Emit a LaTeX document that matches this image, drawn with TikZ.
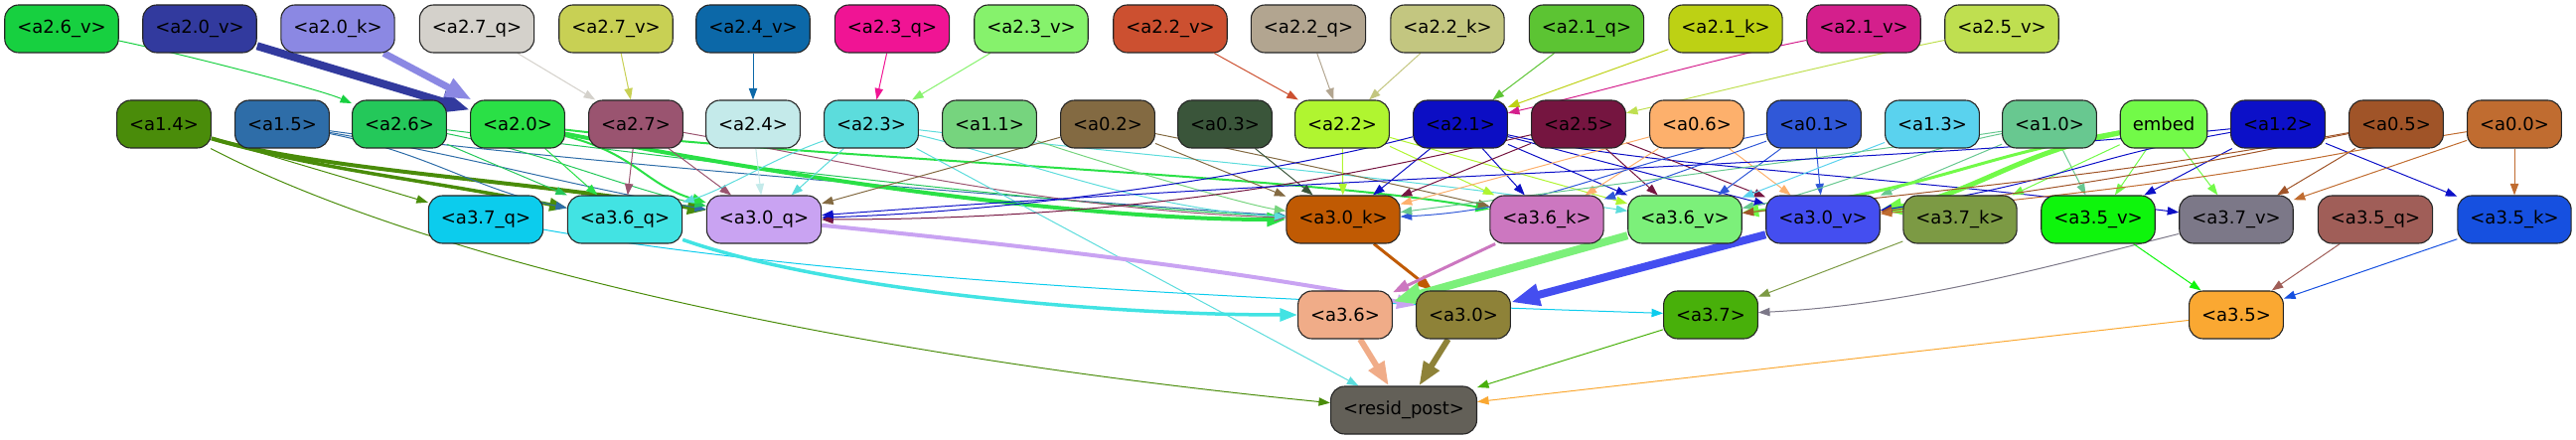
\documentclass[tikz,border=0pt]{standalone}
\usepackage{fontspec}
\setmainfont{DejaVu Sans}
\usetikzlibrary{arrows.meta,backgrounds}
\definecolor{c26v}{HTML}{17D040}\definecolor{c20v}{HTML}{323A9E}\definecolor{c20k}{HTML}{8B88E3}
\definecolor{c27q}{HTML}{D4D1CB}\definecolor{c27v}{HTML}{C8D054}\definecolor{c24v}{HTML}{0C68A8}
\definecolor{c23q}{HTML}{F01494}\definecolor{c23v}{HTML}{86F26C}\definecolor{c22v}{HTML}{CC5030}
\definecolor{c22q}{HTML}{B2A590}\definecolor{c22k}{HTML}{C3C680}\definecolor{c21q}{HTML}{5CC433}
\definecolor{c21k}{HTML}{BDD114}\definecolor{c21v}{HTML}{D41F8C}\definecolor{c25v}{HTML}{BFDF50}
\definecolor{c14}{HTML}{4A8C0A}\definecolor{c15}{HTML}{2E6DA8}\definecolor{c26}{HTML}{24C85A}
\definecolor{c20}{HTML}{2AE046}\definecolor{c27}{HTML}{9A5470}\definecolor{c24}{HTML}{C4EAEA}
\definecolor{c23}{HTML}{5CDCDC}\definecolor{c11}{HTML}{76D47E}\definecolor{c02}{HTML}{836A42}
\definecolor{c03}{HTML}{3A553A}\definecolor{c22}{HTML}{B0F530}\definecolor{c21}{HTML}{0C0EC4}
\definecolor{c25}{HTML}{751540}\definecolor{c06}{HTML}{FDB06C}\definecolor{c01}{HTML}{3058D8}
\definecolor{c13}{HTML}{5AD2EE}\definecolor{c10}{HTML}{68C890}\definecolor{cemb}{HTML}{72FA48}
\definecolor{c12}{HTML}{0C10C8}\definecolor{c05}{HTML}{A05428}\definecolor{c00}{HTML}{C06C30}
\definecolor{c37q}{HTML}{0CCCED}\definecolor{c36q}{HTML}{42E3E3}\definecolor{c30q}{HTML}{C9A3F2}
\definecolor{c30k}{HTML}{C05A03}\definecolor{c36k}{HTML}{CC77C0}\definecolor{c36v}{HTML}{7CF07A}
\definecolor{c30v}{HTML}{444EF0}\definecolor{c37k}{HTML}{7C9A44}\definecolor{c35v}{HTML}{0EF50C}
\definecolor{c37v}{HTML}{7C7888}\definecolor{c35q}{HTML}{A05E58}\definecolor{c35k}{HTML}{1650E0}
\definecolor{c36}{HTML}{F0AC88}\definecolor{c30}{HTML}{8E8238}\definecolor{c37}{HTML}{48B00A}
\definecolor{c35}{HTML}{FAA832}\definecolor{cres}{HTML}{636058}
\begin{document}
\begin{tikzpicture}[x=1pt,y=-1pt,
  box/.style={draw=black!85, line width=1.1pt, rounded corners=14pt, minimum height=48pt,
    inner xsep=12.5pt, inner ysep=0pt, font=\fontsize{18}{21}\selectfont, text=black},
  ed/.style={-{Triangle[length=9pt 2.5, width=6.5pt 1.8]}, line width=#1},
  ed/.default=1pt]
\useasboundingbox (0,0) rectangle (2593,443);
% row 1
\node[box,fill=c26v] (a26v) at (62,29) {<a2.6\_v>};
\node[box,fill=c20v] (a20v) at (201,29) {<a2.0\_v>};
\node[box,fill=c20k] (a20k) at (340,29) {<a2.0\_k>};
\node[box,fill=c27q] (a27q) at (480,29) {<a2.7\_q>};
\node[box,fill=c27v] (a27v) at (620,29) {<a2.7\_v>};
\node[box,fill=c24v] (a24v) at (758,29) {<a2.4\_v>};
\node[box,fill=c23q] (a23q) at (898,29) {<a2.3\_q>};
\node[box,fill=c23v] (a23v) at (1038,29) {<a2.3\_v>};
\node[box,fill=c22v] (a22v) at (1178,29) {<a2.2\_v>};
\node[box,fill=c22q] (a22q) at (1317,29) {<a2.2\_q>};
\node[box,fill=c22k] (a22k) at (1457,29) {<a2.2\_k>};
\node[box,fill=c21q] (a21q) at (1597,29) {<a2.1\_q>};
\node[box,fill=c21k] (a21k) at (1737,29) {<a2.1\_k>};
\node[box,fill=c21v] (a21v) at (1876,29) {<a2.1\_v>};
\node[box,fill=c25v] (a25v) at (2015,29) {<a2.5\_v>};
% row 2
\node[box,fill=c14] (a14) at (165,125) {<a1.4>};
\node[box,fill=c15] (a15) at (284,125) {<a1.5>};
\node[box,fill=c26] (a26) at (402,125) {<a2.6>};
\node[box,fill=c20] (a20) at (521,125) {<a2.0>};
\node[box,fill=c27] (a27) at (640,125) {<a2.7>};
\node[box,fill=c24] (a24) at (758,125) {<a2.4>};
\node[box,fill=c23] (a23) at (877,125) {<a2.3>};
\node[box,fill=c11] (a11) at (996,125) {<a1.1>};
\node[box,fill=c02] (a02) at (1115,125) {<a0.2>};
\node[box,fill=c03] (a03) at (1233,125) {<a0.3>};
\node[box,fill=c22] (a22) at (1351,125) {<a2.2>};
\node[box,fill=c21] (a21) at (1470,125) {<a2.1>};
\node[box,fill=c25] (a25) at (1589,125) {<a2.5>};
\node[box,fill=c06] (a06) at (1708,125) {<a0.6>};
\node[box,fill=c01] (a01) at (1826,125) {<a0.1>};
\node[box,fill=c13] (a13) at (1945,125) {<a1.3>};
\node[box,fill=c10] (a10) at (2063,125) {<a1.0>};
\node[box,fill=cemb] (emb) at (2178,125) {embed};
\node[box,fill=c12] (a12) at (2293,125) {<a1.2>};
\node[box,fill=c05] (a05) at (2412,125) {<a0.5>};
\node[box,fill=c00] (a00) at (2531,125) {<a0.0>};
% row 3
\node[box,fill=c37q] (a37q) at (489,221) {<a3.7\_q>};
\node[box,fill=c36q] (a36q) at (629,221) {<a3.6\_q>};
\node[box,fill=c30q] (a30q) at (769,221) {<a3.0\_q>};
\node[box,fill=c30k] (a30k) at (1352,221) {<a3.0\_k>};
\node[box,fill=c36k] (a36k) at (1557,221) {<a3.6\_k>};
\node[box,fill=c36v] (a36v) at (1696,221) {<a3.6\_v>};
\node[box,fill=c30v] (a30v) at (1835,221) {<a3.0\_v>};
\node[box,fill=c37k] (a37k) at (1973,221) {<a3.7\_k>};
\node[box,fill=c35v] (a35v) at (2112,221) {<a3.5\_v>};
\node[box,fill=c37v] (a37v) at (2251,221) {<a3.7\_v>};
\node[box,fill=c35q] (a35q) at (2391,221) {<a3.5\_q>};
\node[box,fill=c35k] (a35k) at (2531,221) {<a3.5\_k>};
% row 4
\node[box,fill=c36] (a36) at (1354,317) {<a3.6>};
\node[box,fill=c30] (a30) at (1473,317) {<a3.0>};
\node[box,fill=c37] (a37) at (1722,317) {<a3.7>};
\node[box,fill=c35] (a35) at (2251,317) {<a3.5>};
% row 5
\node[box,fill=cres] (res) at (1413,413) {<resid\_post>};
\begin{scope}[on background layer]
% row 1 -> row 2
\draw[ed,c26v] (a26v) .. controls +(120,25) and +(-80,-35) .. (a26);
\draw[ed=8pt,c20v] (a20v) -- (a20);
\draw[ed=7pt,c20k] (a20k) -- (a20);
\draw[ed,c27q] (a27q) -- (a27);
\draw[ed,c27v] (a27v) -- (a27);
\draw[ed,c24v] (a24v) -- (a24);
\draw[ed,c23q] (a23q) -- (a23);
\draw[ed,c23v] (a23v) -- (a23);
\draw[ed,c22v] (a22v) -- (a22);
\draw[ed,c22q] (a22q) -- (a22);
\draw[ed,c22k] (a22k) -- (a22);
\draw[ed,c21q] (a21q) -- (a21);
\draw[ed,c21k] (a21k) -- (a21);
\draw[ed,c21v] (a21v) .. controls +(-150,30) and +(150,-35) .. (a21);
\draw[ed,c25v] (a25v) .. controls +(-150,30) and +(150,-35) .. (a25);
% row 2 -> row 3
\draw[ed,c14] (a14) -- (a37q);
\draw[ed=3.5pt,c14] (a14) .. controls +(150,45) and +(-200,-40) .. (a36q);
\draw[ed=4pt,c14] (a14) .. controls +(150,45) and +(-250,-40) .. (a30q);
\draw[ed,c14] (a14) .. controls +(250,130) and +(-600,-60) .. (res);
\draw[ed,c15] (a15) .. controls +(150,30) and +(-150,-30) .. (a36q);
\draw[ed,c15] (a15) .. controls +(200,35) and +(-200,-35) .. (a30q);
\draw[ed,c15] (a15) .. controls +(250,35) and +(-300,-20) .. (a30k);
\draw[ed,c26] (a26) -- (a36q);
\draw[ed,c26] (a26) .. controls +(150,30) and +(-150,-35) .. (a30q);
\draw[ed,c26] (a26) .. controls +(250,30) and +(-300,-15) .. (a30k);
\draw[ed,c20] (a20) -- (a36q);
\draw[ed=2pt,c20] (a20) .. controls +(120,30) and +(-120,-35) .. (a30q);
\draw[ed=4pt,c20] (a20) .. controls +(200,40) and +(-300,0) .. (a30k);
\draw[ed=2pt,c20] (a20) .. controls +(300,35) and +(-250,-45) .. (a36k);
\draw[ed,c27] (a27) -- (a36q);
\draw[ed,c27] (a27) -- (a30q);
\draw[ed,c27] (a27) .. controls +(200,35) and +(-300,-10) .. (a30k);
\draw[ed,c24] (a24) -- (a30q);
\draw[ed,c23] (a23) .. controls +(-100,35) and +(100,-30) .. (a36q);
\draw[ed,c23] (a23) -- (a30q);
\draw[ed,c23] (a23) .. controls +(150,35) and +(-200,-10) .. (a30k);
\draw[ed,c23] (a23) .. controls +(250,30) and +(-300,-45) .. (a36v);
\draw[ed,c23] (a23) -- (res);
\draw[ed,c11] (a11) .. controls +(100,35) and +(-100,-15) .. (a30k);
\draw[ed,c02] (a02) -- (a30q);
\draw[ed,c02] (a02) -- (a30k);
\draw[ed,c02] (a02) .. controls +(150,30) and +(-150,-35) .. (a36k);
\draw[ed,c03] (a03) -- (a30k);
\draw[ed,c22] (a22) -- (a30k);
\draw[ed,c22] (a22) -- (a36k);
\draw[ed,c22] (a22) -- (a36v);
\draw[ed,c21] (a21) .. controls +(-150,40) and +(300,-10) .. (a30q);
\draw[ed,c21] (a21) -- (a30k);
\draw[ed,c21] (a21) -- (a36k);
\draw[ed,c21] (a21) -- (a36v);
\draw[ed,c21] (a21) -- (a30v);
\draw[ed,c21] (a21) .. controls +(200,45) and +(-400,-50) .. (a37v);
\draw[ed,c25] (a25) .. controls +(-200,45) and +(400,0) .. (a30q);
\draw[ed,c25] (a25) -- (a30k);
\draw[ed,c25] (a25) -- (a36v);
\draw[ed,c25] (a25) -- (a30v);
\draw[ed,c06] (a06) -- (a30k);
\draw[ed,c06] (a06) -- (a36k);
\draw[ed,c06] (a06) -- (a30v);
\draw[ed,c01] (a01) .. controls +(-200,40) and +(200,-10) .. (a30k);
\draw[ed,c01] (a01) -- (a36k);
\draw[ed,c01] (a01) -- (a36v);
\draw[ed,c01] (a01) -- (a30v);
\draw[ed,c13] (a13) -- (a36v);
\draw[ed,c10] (a10) -- (a30v);
\draw[ed,c10] (a10) .. controls +(-150,30) and +(150,-30) .. (a36v);
\draw[ed,c10] (a10) -- (a35v);
\draw[ed,c10] (a10) .. controls +(-200,30) and +(350,-45) .. (a30k);
\draw[ed=5pt,cemb] (emb) .. controls +(-150,30) and +(150,-25) .. (a30v);
\draw[ed=3pt,cemb] (emb) .. controls +(-200,35) and +(250,-30) .. (a36v);
\draw[ed,cemb] (emb) -- (a37k);
\draw[ed,cemb] (emb) -- (a35v);
\draw[ed,cemb] (emb) -- (a37v);
\draw[ed,c12] (a12) .. controls +(-400,40) and +(600,-45) .. (a30q);
\draw[ed,c12] (a12) -- (a35v);
\draw[ed,c12] (a12) -- (a35k);
\draw[ed,c12] (a12) .. controls +(-200,35) and +(250,-40) .. (a30v);
\draw[ed,c05] (a05) .. controls +(-200,40) and +(300,-40) .. (a30v);
\draw[ed,c05] (a05) .. controls +(-250,45) and +(400,-45) .. (a36v);
\draw[ed,c05] (a05) -- (a37v);
\draw[ed,c00] (a00) -- (a35k);
\draw[ed,c00] (a00) -- (a37v);
\draw[ed,c00] (a00) .. controls +(-250,40) and +(450,-45) .. (a30v);
% row 3 -> row 4
\draw[ed,c37q] (a37q) .. controls +(400,70) and +(-300,-10) .. (a37);
\draw[ed=3.5pt,c36q] (a36q) .. controls +(200,70) and +(-250,0) .. (a36);
\draw[ed=4pt,c30q] (a30q) .. controls +(300,30) and +(-200,-40) .. (a30);
\draw[ed=3pt,c30k] (a30k) -- (a30);
\draw[ed=3pt,c36k] (a36k) -- (a36);
\draw[ed=8pt,c36v] (a36v) -- (a36);
\draw[ed=8pt,c30v] (a30v) -- (a30);
\draw[ed,c37k] (a37k) -- (a37);
\draw[ed,c37v] (a37v) .. controls +(-200,50) and +(200,-10) .. (a37);
\draw[ed,c35v] (a35v) -- (a35);
\draw[ed,c35q] (a35q) -- (a35);
\draw[ed,c35k] (a35k) -- (a35);
% row 4 -> row 5
\draw[ed=6pt,c36] (a36) -- (res);
\draw[ed=6pt,c30] (a30) -- (res);
\draw[ed,c37] (a37) -- (res);
\draw[ed,c35] (a35) -- (res);
\end{scope}
\end{tikzpicture}
\end{document}
